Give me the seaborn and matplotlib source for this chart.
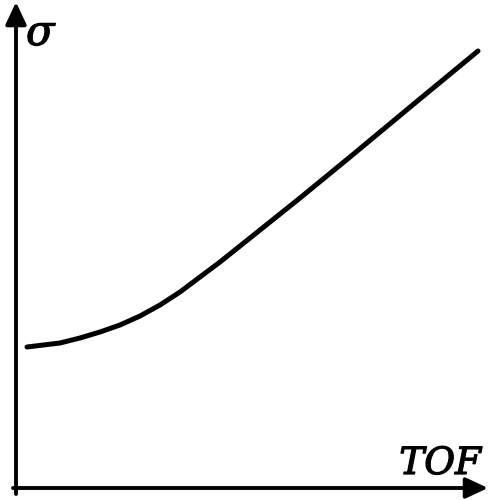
import matplotlib
matplotlib.use("Agg")
import matplotlib.pyplot as plt
import matplotlib.patheffects as pe
import seaborn as sns
import pandas as pd

# Conductivity vs. time of flight (schematic, arbitrary units)
tof = [11, 44, 64, 84, 104, 124, 144, 164, 184, 204, 234, 284, 334, 399, 462]
sigma = [141, 145, 150, 156, 163, 172, 183, 196, 211, 226, 250, 290, 331, 385, 437]

x_label = "TOF"
y_label = "σ"

sns.set_theme(style="white")
plt.rcParams["font.family"] = ["DejaVu Serif", "Liberation Serif"]

fig = plt.figure(figsize=(4.89, 5.00), dpi=100)
ax = fig.add_axes([0, 0, 1, 1])
ax.set_xlim(-16, 473)
ax.set_ylim(-12, 488)
ax.axis("off")

df = pd.DataFrame({"tof": tof, "sigma": sigma})
sns.lineplot(data=df, x="tof", y="sigma", ax=ax, color="black",
             linewidth=3.6, solid_capstyle="round", legend=False)

# axes drawn as arrows
arrow_kw = dict(arrowstyle="-|>,head_length=0.75,head_width=0.35",
                color="black", lw=2.8, mutation_scale=18,
                shrinkA=0, shrinkB=0)
ax.annotate("", xy=(0, 486), xytext=(0, -6), arrowprops=arrow_kw)
ax.annotate("", xy=(472, 0), xytext=(-3, 0), arrowprops=arrow_kw)

heavy = [pe.withStroke(linewidth=0.9, foreground="black")]
ax.text(10, 455, y_label, fontsize=30, style="italic", color="black",
        ha="left", va="center", path_effects=heavy)
ax.text(465, 24, x_label, fontsize=27, style="italic", color="black",
        ha="right", va="center", path_effects=heavy)

fig.savefig("out.png", dpi=100, facecolor="white")
